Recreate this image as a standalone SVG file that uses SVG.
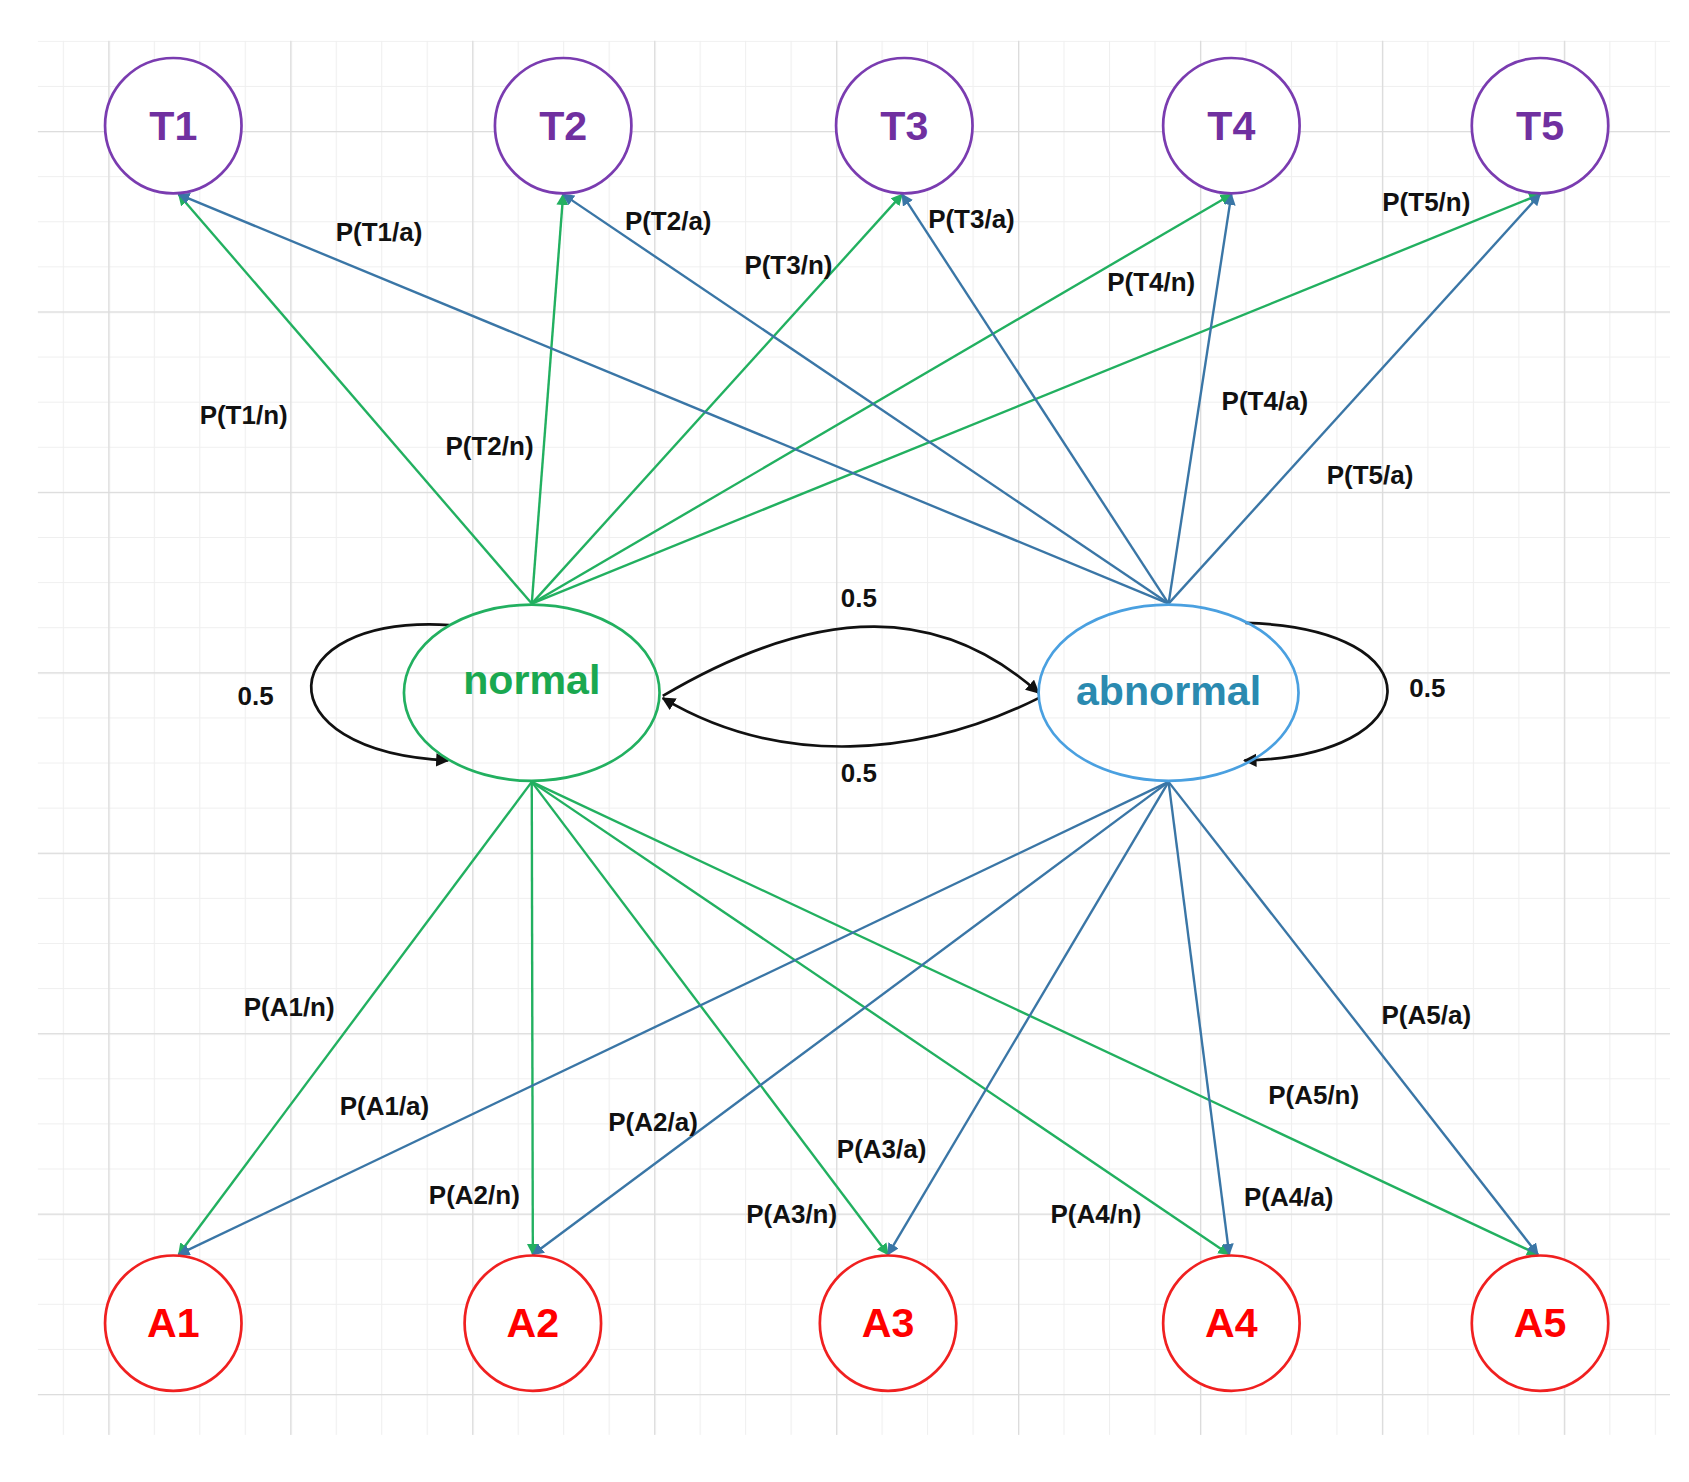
<svg xmlns="http://www.w3.org/2000/svg" width="1689" height="1482" viewBox="0 0 1689 1482">
<defs>
<pattern id="minor" x="16" y="38" width="42" height="42" patternUnits="userSpaceOnUse"><path d="M0 0V42M0 0H42" stroke="#efefef" stroke-width="2" fill="none"/></pattern>
<pattern id="major" x="100" y="122" width="168" height="168" patternUnits="userSpaceOnUse"><path d="M0 0V168M0 0H168" stroke="#dcdcdc" stroke-width="2.5" fill="none"/></pattern>
<marker id="ag" viewBox="0 0 10 10" refX="9" refY="5" markerWidth="5" markerHeight="5" orient="auto"><path d="M0 0L10 5L0 10z" fill="#22b060"/></marker>
<marker id="ab" viewBox="0 0 10 10" refX="9" refY="5" markerWidth="5" markerHeight="5" orient="auto"><path d="M0 0L10 5L0 10z" fill="#3a76a6"/></marker>
<marker id="ak" viewBox="0 0 10 10" refX="9" refY="5" markerWidth="5" markerHeight="5" orient="auto"><path d="M0 0L10 5L0 10z" fill="#111"/></marker>
</defs>
<style>
.g{stroke:#22b060;stroke-width:2.2;fill:none;marker-end:url(#ag)}
.b{stroke:#3a76a6;stroke-width:2.2;fill:none;marker-end:url(#ab)}
.k{stroke:#111;stroke-width:2.5;fill:none;marker-end:url(#ak)}
.l{font-family:"Liberation Sans",Arial,sans-serif;font-weight:bold;font-size:24px;fill:#111;text-anchor:middle;dominant-baseline:central}
.t{fill:#fff;stroke:#7a3cb0;stroke-width:2.5}
.a{fill:#fff;stroke:#f02020;stroke-width:2.5}
.nt{font-family:"Liberation Sans",Arial,sans-serif;font-weight:bold;font-size:38px;text-anchor:middle;dominant-baseline:central}
</style>
<rect width="1689" height="1482" fill="#fff"/>
<g transform="scale(1.083,1.074)">
<rect x="35" y="38" width="1507" height="1298" fill="url(#minor)"/>
<rect x="35" y="38" width="1507" height="1298" fill="url(#major)"/>
<g id="connectors">
<path class="g" d="M491 562L165 181"/><path class="g" d="M491 562L520 181"/><path class="g" d="M491 562L833 181"/><path class="g" d="M491 562L1137 181"/><path class="g" d="M491 562L1422 181"/>
<path class="b" d="M1079 562L165 181"/><path class="b" d="M1079 562L520 181"/><path class="b" d="M1079 562L833 181"/><path class="b" d="M1079 562L1137 181"/><path class="b" d="M1079 562L1422 181"/>
<path class="g" d="M491 728L165 1168"/><path class="g" d="M491 728L492 1168"/><path class="g" d="M491 728L820 1168"/><path class="g" d="M491 728L1135 1168"/><path class="g" d="M491 728L1420 1168"/>
<path class="b" d="M1079 728L165 1168"/><path class="b" d="M1079 728L492 1168"/><path class="b" d="M1079 728L820 1168"/><path class="b" d="M1079 728L1135 1168"/><path class="b" d="M1079 728L1420 1168"/>
<path class="k" d="M415 582C250 572 240 700 414 708"/>
<path class="k" d="M1150 580C1330 585 1320 705 1149 708"/>
<path class="k" d="M612 648C760 560 870 565 959 645"/>
<path class="k" d="M959 650C850 705 720 715 612 650"/>
<text class="l" x="350" y="216">P(T1/a)</text><text class="l" x="617" y="206">P(T2/a)</text><text class="l" x="728" y="247">P(T3/n)</text><text class="l" x="897" y="204">P(T3/a)</text><text class="l" x="1063" y="263">P(T4/n)</text><text class="l" x="1317" y="188">P(T5/n)</text><text class="l" x="225" y="386">P(T1/n)</text><text class="l" x="452" y="415">P(T2/n)</text><text class="l" x="1168" y="373">P(T4/a)</text><text class="l" x="1265" y="442">P(T5/a)</text>
<text class="l" x="267" y="938">P(A1/n)</text><text class="l" x="355" y="1030">P(A1/a)</text><text class="l" x="603" y="1045">P(A2/a)</text><text class="l" x="438" y="1113">P(A2/n)</text><text class="l" x="814" y="1070">P(A3/a)</text><text class="l" x="731" y="1130">P(A3/n)</text><text class="l" x="1012" y="1130">P(A4/n)</text><text class="l" x="1190" y="1115">P(A4/a)</text><text class="l" x="1317" y="945">P(A5/a)</text><text class="l" x="1213" y="1020">P(A5/n)</text>
<text class="l" x="793" y="557">0.5</text><text class="l" x="236" y="648">0.5</text><text class="l" x="1318" y="641">0.5</text><text class="l" x="793" y="720">0.5</text>
</g>
<g id="T1"><circle class="t" cx="160" cy="117" r="63"/><text class="nt" x="160" y="117" fill="#7030a0">T1</text></g>
<g id="T2"><circle class="t" cx="520" cy="117" r="63"/><text class="nt" x="520" y="117" fill="#7030a0">T2</text></g>
<g id="T3"><circle class="t" cx="835" cy="117" r="63"/><text class="nt" x="835" y="117" fill="#7030a0">T3</text></g>
<g id="T4"><circle class="t" cx="1137" cy="117" r="63"/><text class="nt" x="1137" y="117" fill="#7030a0">T4</text></g>
<g id="T5"><circle class="t" cx="1422" cy="117" r="63"/><text class="nt" x="1422" y="117" fill="#7030a0">T5</text></g>
<g id="A1"><circle class="a" cx="160" cy="1232" r="63"/><text class="nt" x="160" y="1232" fill="#ff0000">A1</text></g>
<g id="A2"><circle class="a" cx="492" cy="1232" r="63"/><text class="nt" x="492" y="1232" fill="#ff0000">A2</text></g>
<g id="A3"><circle class="a" cx="820" cy="1232" r="63"/><text class="nt" x="820" y="1232" fill="#ff0000">A3</text></g>
<g id="A4"><circle class="a" cx="1137" cy="1232" r="63"/><text class="nt" x="1137" y="1232" fill="#ff0000">A4</text></g>
<g id="A5"><circle class="a" cx="1422" cy="1232" r="63"/><text class="nt" x="1422" y="1232" fill="#ff0000">A5</text></g>
<g id="normal"><ellipse cx="491" cy="645" rx="118" ry="82" fill="none" stroke="#22b060" stroke-width="2.5"/><text class="nt" x="491" y="633" fill="#1aa850">normal</text></g>
<g id="abnormal"><ellipse cx="1079" cy="645" rx="120" ry="82" fill="none" stroke="#4aa0e0" stroke-width="2.5"/><text class="nt" x="1079" y="643" fill="#2a8ab0">abnormal</text></g>
</g>
</svg>
